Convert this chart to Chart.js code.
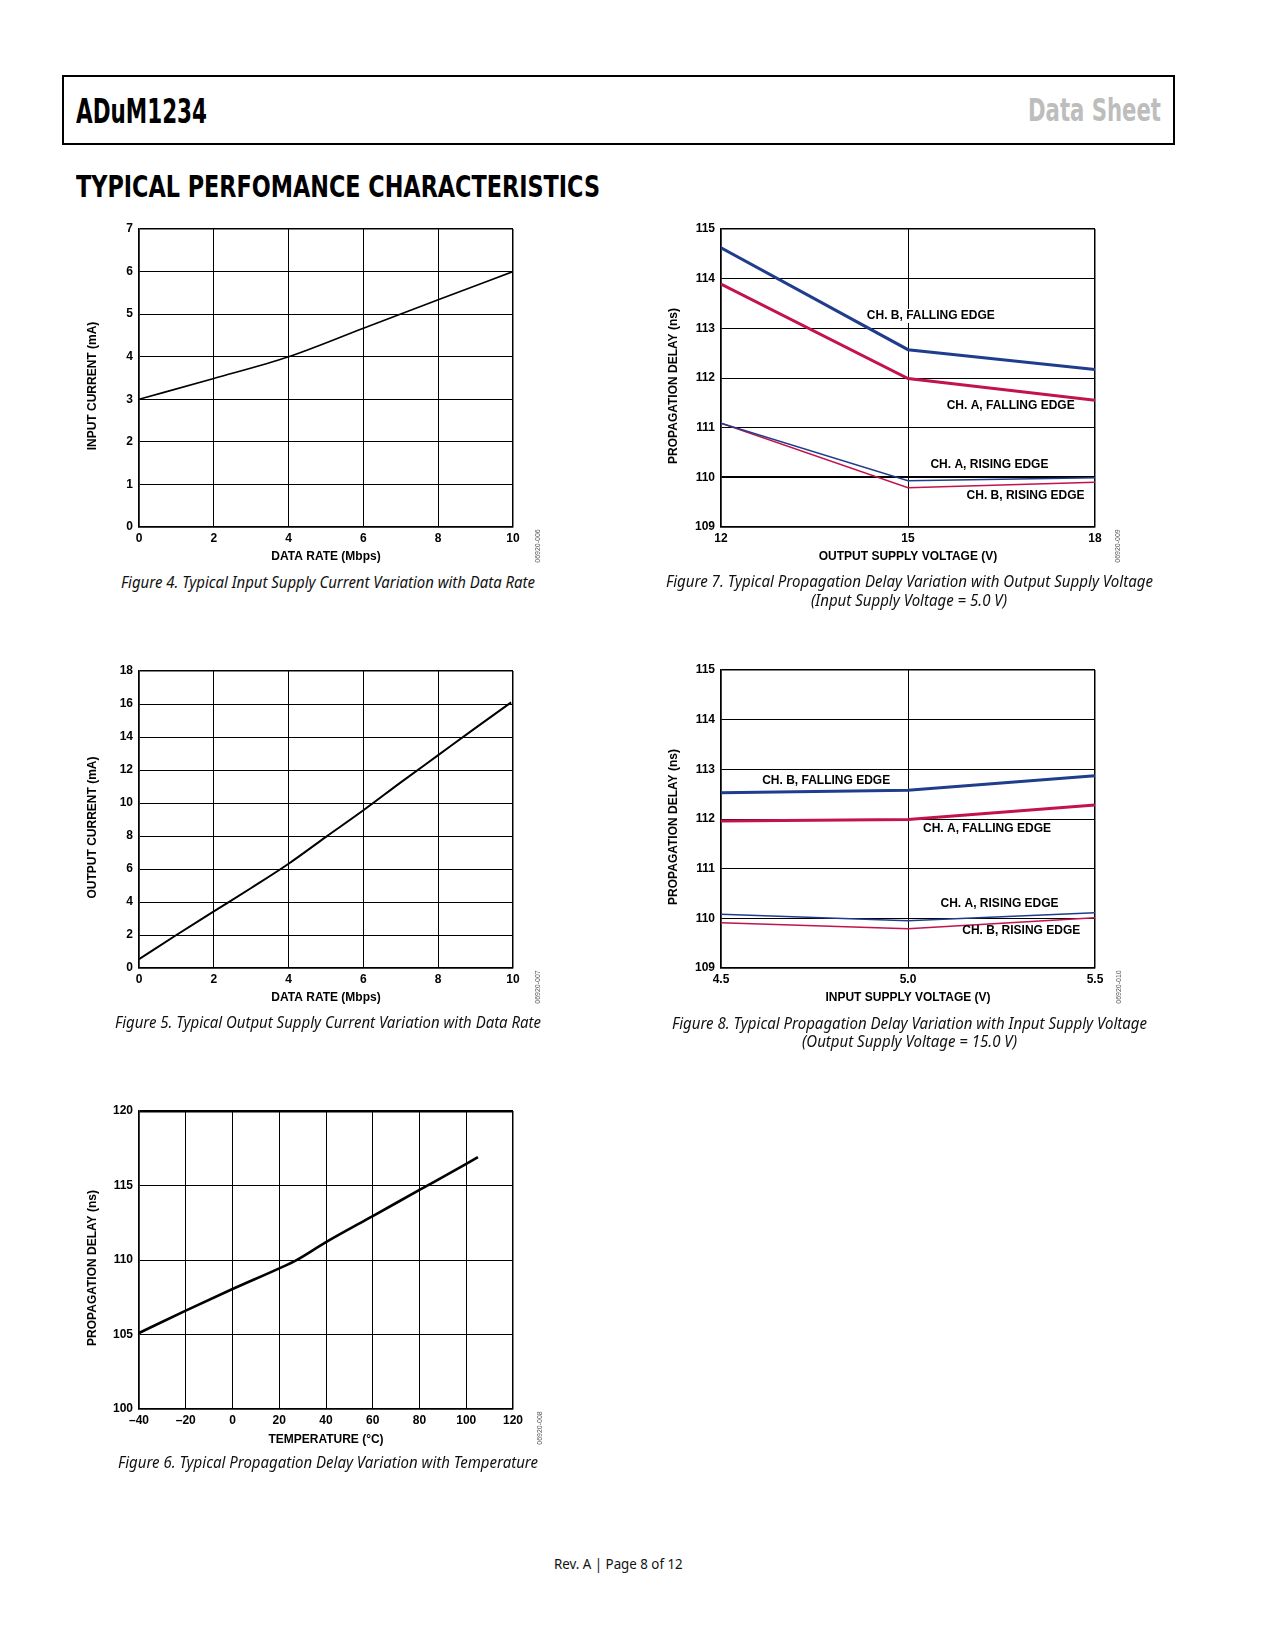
<!DOCTYPE html>
<html>
<head>
<meta charset="utf-8">
<title>ADuM1234 Typical Performance Characteristics</title>
<script src="https://cdn.jsdelivr.net/npm/chart.js@4.4.0/dist/chart.umd.min.js"></script>
<style>
  html, body { margin: 0; padding: 0; background: #fff; }
  body { width: 1275px; height: 1650px; position: relative; overflow: hidden; }
  .t { position: absolute; white-space: nowrap; line-height: 1; }
  .bl { display: inline-block; width: 0; height: 0; }
  .hd { font-family: "Liberation Sans Narrow", "DejaVu Sans", sans-serif; font-stretch: condensed; font-weight: bold; }
  .cap { font-family: "Noto Sans", "Open Sans", sans-serif; font-style: italic; font-size: 15.5px; color: #111; }
  .code { position: absolute; font-family: "Liberation Sans", Arial, sans-serif; font-size: 7px; color: #555; white-space: nowrap;
          transform: translate(-50%, -50%) rotate(-90deg); }
  #box { position: absolute; left: 62px; top: 75px; width: 1113px; height: 70px; border: 2px solid #000; box-sizing: border-box; }
  canvas { position: absolute; }
</style>
</head>
<body>
<div id="box"></div>
<div class="t hd" id="hTitle" style="font-size:34px;color:#000"><span class="tx">ADuM1234</span><span class="bl"></span></div>
<div class="t hd" id="hSheet" style="font-size:32.5px;color:#bdbdbd"><span class="tx">Data Sheet</span><span class="bl"></span></div>
<div class="t hd" id="hSection" style="font-size:31px;color:#000"><span class="tx">TYPICAL PERFOMANCE CHARACTERISTICS</span><span class="bl"></span></div>

<canvas id="fig4"></canvas>
<canvas id="fig5"></canvas>
<canvas id="fig6"></canvas>
<canvas id="fig7"></canvas>
<canvas id="fig8"></canvas>

<div class="t cap" id="c4"><span class="tx">Figure 4. Typical Input Supply Current Variation with Data Rate</span><span class="bl"></span></div>
<div class="t cap" id="c5"><span class="tx">Figure 5. Typical Output Supply Current Variation with Data Rate</span><span class="bl"></span></div>
<div class="t cap" id="c6"><span class="tx">Figure 6. Typical Propagation Delay Variation with Temperature</span><span class="bl"></span></div>
<div class="t cap" id="c7a"><span class="tx">Figure 7. Typical Propagation Delay Variation with Output Supply Voltage</span><span class="bl"></span></div>
<div class="t cap" id="c7b"><span class="tx">(Input Supply Voltage = 5.0 V)</span><span class="bl"></span></div>
<div class="t cap" id="c8a"><span class="tx">Figure 8. Typical Propagation Delay Variation with Input Supply Voltage</span><span class="bl"></span></div>
<div class="t cap" id="c8b"><span class="tx">(Output Supply Voltage = 15.0 V)</span><span class="bl"></span></div>

<div class="code" style="left:537px;top:546px">06920-006</div>
<div class="code" style="left:537px;top:987px">06920-007</div>
<div class="code" style="left:539px;top:1428px">06920-008</div>
<div class="code" style="left:1117px;top:546px">06920-009</div>
<div class="code" style="left:1118px;top:987px">06920-010</div>

<div class="t" id="footer" style="font-family:'Noto Sans','Open Sans',sans-serif;font-size:14px;color:#111"><span class="tx">Rev. A | Page 8 of 12</span><span class="bl"></span></div>

<script>
// ---- data ----
// Figure 4: input current vs data rate
const rateIn = [0, 2, 4, 6, 8, 10];
const inputCurrent = [3.0, 3.49, 4.0, 4.67, 5.34, 6.0];

// Figure 5: output current vs data rate
const rateOut = [0, 1, 2, 3, 4, 5, 6, 7, 8, 9, 9.95];
const outputCurrent = [0.53, 2.0, 3.43, 4.85, 6.32, 7.95, 9.56, 11.25, 12.9, 14.55, 16.1];

// Figure 6: propagation delay vs temperature
const temperature = [-40, -20, 0, 20, 27, 40, 60, 80, 100, 105];
const delayTemp = [105.1, 106.6, 108.05, 109.44, 109.96, 111.2, 112.95, 114.7, 116.45, 116.9];

// Figure 7: propagation delay vs output supply voltage
const vOut = [12, 15, 18];
const f7FallB = [114.62, 112.57, 112.17];
const f7FallA = [113.89, 111.99, 111.55];
const f7RiseBlue = [111.09, 109.93, 109.99];
const f7RiseRed = [111.09, 109.79, 109.9];

// Figure 8: propagation delay vs input supply voltage
const vIn = [4.5, 5.0, 5.5];
const f8FallB = [112.53, 112.58, 112.87];
const f8FallA = [111.96, 111.99, 112.28];
const f8RiseBlue = [110.08, 109.95, 110.11];
const f8RiseRed = [109.91, 109.79, 110.01];

const BLUE = '#1f3d8c';
const RED = '#c2134b';
const FONT_FAMILY = '"Liberation Sans", Arial, sans-serif';
const TICK_FONT = { family: FONT_FAMILY, size: 12, weight: 'bold' };

function pts(xs, ys) {
  return xs.map((x, i) => ({ x: x, y: ys[i] }));
}

function series(xs, ys, color, width, smooth) {
  return {
    data: pts(xs, ys),
    showLine: true,
    borderColor: color,
    borderWidth: width,
    pointRadius: 0,
    fill: false,
    cubicInterpolationMode: smooth ? 'monotone' : 'default',
    tension: 0
  };
}

// curve names at data coordinates + rotated y axis title
const curveLabels = {
  id: 'curveLabels',
  afterDatasetsDraw(chart, args, opts) {
    const { ctx, scales, chartArea } = chart;
    ctx.save();
    ctx.font = 'bold 12px ' + FONT_FAMILY;
    ctx.textBaseline = 'middle';

    if (opts.yTitle) {
      ctx.save();
      ctx.translate(chartArea.left - opts.yTitleGap, (chartArea.top + chartArea.bottom) / 2 + 8);
      ctx.rotate(-Math.PI / 2);
      ctx.textAlign = 'center';
      ctx.fillStyle = '#000';
      ctx.fillText(opts.yTitle, 0, 0);
      ctx.restore();
    }

    ctx.textAlign = 'left';
    (opts.items || []).forEach(it => {
      const px = scales.x.getPixelForValue(it.x);
      const py = scales.y.getPixelForValue(it.y);
      if (it.bg) {
        const w = ctx.measureText(it.text).width;
        ctx.fillStyle = '#fff';
        ctx.fillRect(px - 2, py - 7, w + 4, 14);
      }
      ctx.fillStyle = '#000';
      ctx.fillText(it.text, px, py);
    });
    ctx.restore();
  }
};

function edgeWidth(lo, hi, special) {
  return ctx => {
    const v = ctx.tick ? ctx.tick.value : null;
    if (special && special[v] !== undefined) return special[v];
    return (v === lo || v === hi) ? 1.5 : 1;
  };
}

function makeChart(id, c) {
  const el = document.getElementById(id);
  const left = c.plot[0] - 60, top = c.plot[1] - 20;
  const width = c.plot[2] - c.plot[0] + 60 + 50;
  const height = c.plot[3] - c.plot[1] + 20 + 44;
  el.width = width; el.height = height;
  el.style.left = left + 'px'; el.style.top = top + 'px';
  el.style.width = width + 'px'; el.style.height = height + 'px';

  return new Chart(el, {
    type: 'scatter',
    data: { datasets: c.datasets },
    options: {
      responsive: false,
      animation: false,
      devicePixelRatio: 1,
      layout: { padding: { top: 20, right: 50, left: 0, bottom: 0 } },
      plugins: {
        legend: { display: false },
        tooltip: { enabled: false },
        curveLabels: { items: c.labels || [], yTitle: c.y.title, yTitleGap: c.y.gap }
      },
      scales: {
        x: {
          type: 'linear', min: c.x.min, max: c.x.max,
          ticks: { stepSize: c.x.step, font: TICK_FONT, color: '#000', padding: 4, maxRotation: 0, autoSkip: false,
                   callback: c.x.fmt || (v => String(v)) },
          grid: { color: '#000', lineWidth: edgeWidth(c.x.min, c.x.max), drawTicks: false },
          border: { color: '#000', width: 1.5 },
          title: { display: true, text: c.x.title, color: '#000', font: TICK_FONT, padding: { top: 0, bottom: c.x.tpad } },
          afterFit: s => { s.height = 44; }
        },
        y: {
          type: 'linear', min: c.y.min, max: c.y.max,
          ticks: { stepSize: c.y.step, font: TICK_FONT, color: '#000', padding: 6, autoSkip: false,
                   callback: v => String(v) },
          grid: { color: '#000', lineWidth: edgeWidth(c.y.min, c.y.max, c.y.special), drawTicks: false },
          border: { color: '#000', width: 1.5 },
          title: { display: false },
          afterFit: s => { s.width = 60; }
        }
      }
    },
    plugins: [curveLabels]
  });
}

makeChart('fig4', {
  plot: [139, 229, 513, 527],
  datasets: [series(rateIn, inputCurrent, '#000', 1.6, true)],
  x: { min: 0, max: 10, step: 2, title: 'DATA RATE (Mbps)', tpad: 7 },
  y: { min: 0, max: 7, step: 1, title: 'INPUT CURRENT (mA)', gap: 46 }
});

makeChart('fig5', {
  plot: [139, 671, 513, 968],
  datasets: [series(rateOut, outputCurrent, '#000', 2, true)],
  x: { min: 0, max: 10, step: 2, title: 'DATA RATE (Mbps)', tpad: 6.8 },
  y: { min: 0, max: 18, step: 2, title: 'OUTPUT CURRENT (mA)', gap: 46 }
});

makeChart('fig6', {
  plot: [139, 1111, 513, 1409],
  datasets: [series(temperature, delayTemp, '#000', 2.6, true)],
  x: { min: -40, max: 120, step: 20, title: 'TEMPERATURE (°C)', tpad: 5.8,
       fmt: v => v < 0 ? '\u2013' + Math.abs(v) : String(v) },
  y: { min: 100, max: 120, step: 5, title: 'PROPAGATION DELAY (ns)', gap: 46, special: { 120: 2.5 } }
});

makeChart('fig7', {
  plot: [721, 229, 1095, 527],
  datasets: [
    series(vOut, f7FallB, BLUE, 3, false),
    series(vOut, f7FallA, RED, 3, false),
    series(vOut, f7RiseBlue, BLUE, 1.5, false),
    series(vOut, f7RiseRed, RED, 1.5, false)
  ],
  labels: [
    { text: 'CH. B, FALLING EDGE', x: 14.34, y: 113.25, bg: true },
    { text: 'CH. A, FALLING EDGE', x: 15.62, y: 111.44 },
    { text: 'CH. A, RISING EDGE', x: 15.36, y: 110.25 },
    { text: 'CH. B, RISING EDGE', x: 15.94, y: 109.63 }
  ],
  x: { min: 12, max: 18, step: 3, title: 'OUTPUT SUPPLY VOLTAGE (V)', tpad: 7 },
  y: { min: 109, max: 115, step: 1, title: 'PROPAGATION DELAY (ns)', gap: 47.7, special: { 110: 2 } }
});

makeChart('fig8', {
  plot: [721, 670, 1095, 968],
  datasets: [
    series(vIn, f8FallB, BLUE, 3, false),
    series(vIn, f8FallA, RED, 3, false),
    series(vIn, f8RiseBlue, BLUE, 1.5, false),
    series(vIn, f8RiseRed, RED, 1.5, false)
  ],
  labels: [
    { text: 'CH. B, FALLING EDGE', x: 4.61, y: 112.77 },
    { text: 'CH. A, FALLING EDGE', x: 5.04, y: 111.81 },
    { text: 'CH. A, RISING EDGE', x: 5.087, y: 110.30 },
    { text: 'CH. B, RISING EDGE', x: 5.145, y: 109.75 }
  ],
  x: { min: 4.5, max: 5.5, step: 0.5, title: 'INPUT SUPPLY VOLTAGE (V)', tpad: 6.8, fmt: v => v.toFixed(1) },
  y: { min: 109, max: 115, step: 1, title: 'PROPAGATION DELAY (ns)', gap: 47.7 }
});

// place a text block so its baseline and width match the page
function fitText(id, left, baseline, width) {
  const el = document.getElementById(id);
  el.style.left = left + 'px';
  el.style.top = '0px';
  const r0 = el.getBoundingClientRect();
  const m = el.querySelector('.bl').getBoundingClientRect();
  el.style.top = (baseline - (m.top - r0.top)) + 'px';
  const w = el.querySelector('.tx').getBoundingClientRect().width;
  el.style.transformOrigin = '0 0';
  el.style.transform = 'scaleX(' + (width / w) + ')';
}

fitText('hTitle', 76, 122.7, 131);
fitText('hSheet', 1028, 121, 133);
fitText('hSection', 76, 196.7, 524);
fitText('c4', 120.7, 587.7, 414);
fitText('c5', 115, 1027.7, 426);
fitText('c6', 118.3, 1468, 420);
fitText('c7a', 666, 587, 487);
fitText('c7b', 811, 605.5, 196);
fitText('c8a', 672, 1028.7, 475);
fitText('c8b', 802, 1047, 215);
fitText('footer', 554, 1569, 128.7);
</script>
</body>
</html>
